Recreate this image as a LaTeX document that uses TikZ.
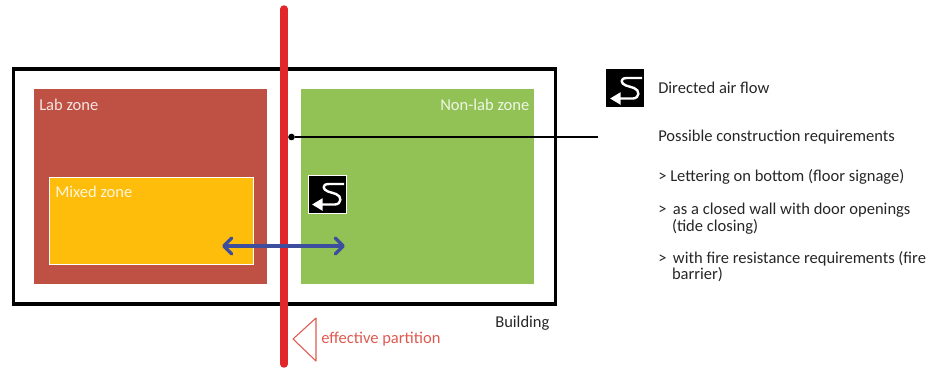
\documentclass[tikz,border=0pt]{standalone}
\usepackage{fontspec}
\setmainfont{Carlito}
\usetikzlibrary{arrows.meta}
\definecolor{labred}{HTML}{BE5144}
\definecolor{nonlab}{HTML}{92C256}
\definecolor{mixed}{HTML}{FDBD0A}
\definecolor{partred}{HTML}{E2272A}
\definecolor{flowblue}{HTML}{3E4E9E}
\definecolor{txt}{HTML}{262626}
\definecolor{parttxt}{HTML}{DE5A50}
\tikzset{
  x=0.75pt,y=-0.75pt,
  zonelabel/.style={text=white,font=\fontsize{12.4pt}{14pt}\selectfont,inner sep=0,anchor=west,opacity=.85},
  note/.style={text=txt,font=\fontsize{12.4pt}{12.4pt}\selectfont,inner sep=0,anchor=west,align=left},
  airicon/.pic={
    \draw[white,line width=1.8pt,line join=round,-{Triangle[length=8pt,width=9pt]}]
      (17,-10) -- (2,-10) .. controls (-6,-10) and (-4,-4) .. (1,-2.5)
      -- (9,0) .. controls (15,2) and (15,10) .. (8,10.5) -- (-15,10.5);
  }
}
\begin{document}
\begin{tikzpicture}
\useasboundingbox (0,0) rectangle (944,369);
\node[draw=black,line width=2.4pt,minimum width=541.5*0.75pt,minimum height=235*0.75pt,inner sep=0,fill=white] (building) at (284.5,186.5) {};
\node[fill=labred,minimum width=233*0.75pt,minimum height=195*0.75pt,inner sep=0] (lab) at (150.5,186.5) {};
\node[fill=nonlab,minimum width=233*0.75pt,minimum height=195*0.75pt,inner sep=0] (nonlab) at (417,186.5) {};
\node[fill=mixed,draw=white,line width=0.6pt,minimum width=204*0.75pt,minimum height=87*0.75pt,inner sep=0] (mix) at (151,220.5) {};
\node[zonelabel] (lablabel) at (39,105) {Lab zone};
\node[zonelabel] (nonlablabel) at (440,105) {Non-lab zone};
\node[zonelabel] (mixlabel) at (55,192) {Mixed zone};
% partition
\coordinate (parttop) at (284,9);
\coordinate (partbot) at (284,364);
\draw[partred,line width=5.6pt,line cap=round] (parttop) -- (partbot);
% leader
\node[circle,fill=black,inner sep=0,minimum size=5pt] (dot) at (291.5,137) {};
\coordinate (leaderend) at (598,137);
\draw[black,line width=0.9pt] (dot) -- (leaderend);
% blue arrow
\coordinate (flowl) at (222,246);
\coordinate (flowr) at (345,246);
\draw[flowblue,line width=2.6pt,line cap=round,{Straight Barb[length=6pt,width=12pt,round]}-{Straight Barb[length=6pt,width=12pt,round]}] (flowl) -- (flowr);
% icons
\node[draw=white,line width=0.5pt,fill=black,minimum size=28.5pt,inner sep=0] (iconA) at (327,194) {};
\pic at (iconA.center) {airicon};
\node[fill=black,minimum size=28.5pt,inner sep=0] (iconB) at (625,88) {};
\pic at (iconB.center) {airicon};
% triangle and labels
\draw[parttxt,line width=0.8pt,line join=round] (316,318) -- (293,339) -- (316,361) -- cycle;
\node[text=parttxt,font=\fontsize{12.4pt}{14pt}\selectfont,inner sep=0,anchor=west] (effective) at (321,339) {effective partition};
\node[note] (bld) at (495,323) {Building};
\node[note] (n1) at (658,88) {Directed air flow};
\node[note] (n2) at (658,137) {Possible construction requirements};
\node[note] (n3) at (658,176.5) {> Lettering on bottom (floor signage)};
\node[note,anchor=north west] (n4) at (658,203) {>\, as a closed wall with door openings\\\phantom{>\,\,}(tide closing)};
\node[note,anchor=north west] (n5) at (658,251) {>\, with fire resistance requirements (fire\\\phantom{>\,\,}barrier)};
\end{tikzpicture}
\end{document}
